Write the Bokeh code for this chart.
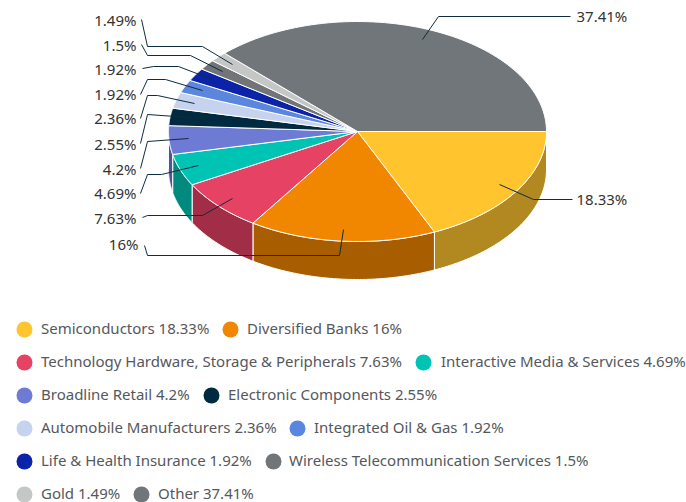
import numpy as np
from bokeh.plotting import figure
from bokeh.core.properties import value
from bokeh.embed import file_html
from bokeh.resources import INLINE

categories = ["Semiconductors", "Diversified Banks", "Technology Hardware, Storage & Peripherals",
              "Interactive Media & Services", "Broadline Retail", "Electronic Components",
              "Automobile Manufacturers", "Integrated Oil & Gas", "Life & Health Insurance",
              "Wireless Telecommunication Services", "Gold", "Other"]
shares = [18.33, 16, 7.63, 4.69, 4.2, 2.55, 2.36, 1.92, 1.92, 1.5, 1.49, 37.41]
colors = ["#ffc42e", "#f18700", "#e64264", "#00c4b3", "#6e7bd4", "#002a3f",
          "#c6d3ef", "#5b86dd", "#0a23a8", "#717578", "#c4c7c6", "#71767a"]

CX, CY, RX, RY, DEPTH = 357, 131, 189, 110, 38

# legend layout: (row y, circle x, text x) for each category, in order
legend_y = [329, 329, 362, 362, 395, 395, 428, 428, 461, 461, 494, 494]
legend_cx = [24, 230, 24, 423, 24, 211, 24, 297, 24, 273, 24, 141]
legend_tx = [40.5, 246.5, 40.5, 440.5, 40.5, 227.5, 40.5, 313.5, 40.5, 288.5, 40.5, 157.5]

# leader lines, in category order
leader_x = [[499, 533, 572], [144, 147, 339, 343], [142, 147, 202, 232], [140, 147, 161, 198],
            [140, 147, 188], [140, 147, 189], [140, 147, 157, 194], [140, 147, 165, 202],
            [142, 153, 178, 212], [141, 147, 190, 222], [141, 147, 202, 232], [570, 438, 422]]
leader_y = [[184, 199, 199], [245, 255, 255, 229], [217, 215, 215, 198], [193, 174, 174, 165],
            [168, 141, 138], [143, 114, 117], [118, 95, 95, 103], [94, 79, 79, 90],
            [68, 66, 66, 79], [44, 55, 55, 71], [19, 46, 46, 64], [16, 16, 39]]
label_x = [576, 138, 136, 136, 136, 136, 136, 136, 136, 136, 136, 576]
label_y = [198, 243, 217, 192, 168, 143, 117, 93, 68, 44, 19, 15]
label_align = ["left"] + ["right"] * 10 + ["left"]


def fmt(v):
    return f"{v:g}%"


def darken(h, f=0.7):
    r, g, b = [int(h[i:i + 2], 16) for i in (1, 3, 5)]
    return "#%02x%02x%02x" % (int(r * f), int(g * f), int(b * f))


p = figure(width=686, height=502, x_range=(0, 686), y_range=(502, 0),
           output_backend="svg", toolbar_location=None, min_border=0,
           outline_line_color=None, x_axis_location=None, y_axis_location=None)
p.grid.visible = False
p.background_fill_color = None
p.border_fill_color = None

fr = np.cumsum([0] + shares) / sum(shares) * 2 * np.pi
tops_x, tops_y, sides_x, sides_y, side_cols = [], [], [], [], []
for i in range(len(shares)):
    t = np.linspace(fr[i], fr[i + 1], 80)
    tops_x.append(np.r_[CX, CX + RX * np.cos(t)])
    tops_y.append(np.r_[CY, CY + RY * np.sin(t)])
    a, b = fr[i], min(fr[i + 1], np.pi)
    if a < np.pi:
        s = np.linspace(a, b, 60)
        ax, ay = CX + RX * np.cos(s), CY + RY * np.sin(s)
        sides_x.append(np.r_[ax, ax[::-1]])
        sides_y.append(np.r_[ay, ay[::-1] + DEPTH])
        side_cols.append(darken(colors[i]))

p.patches(sides_x, sides_y, fill_color=side_cols, line_color="white", line_width=1)
p.patches(tops_x, tops_y, fill_color=colors, line_color="white", line_width=1)
p.multi_line(leader_x, leader_y, line_color="#0f2c3f", line_width=1)

for ha in ("left", "right"):
    idx = [i for i, al in enumerate(label_align) if al == ha]
    p.text([label_x[i] for i in idx], [label_y[i] for i in idx],
           text=[fmt(shares[i]) for i in idx], text_align=ha, text_baseline="middle",
           text_font=value("Noto Sans"), text_font_size="15px", text_color="#333333")

p.scatter(legend_cx, legend_y, size=16, marker="circle", fill_color=colors, line_color=None)
p.text(legend_tx, [y - 1.5 for y in legend_y],
       text=[f"{c} {fmt(v)}" for c, v in zip(categories, shares)],
       text_align="left", text_baseline="middle",
       text_font=value("Noto Sans"), text_font_size="15px", text_color="#54585c")

open("out.html", "w").write(file_html(p, INLINE))
